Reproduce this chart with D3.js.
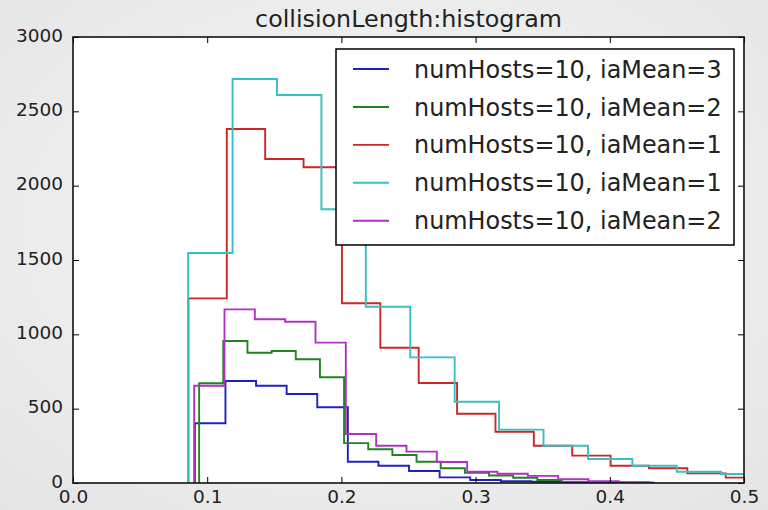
<!DOCTYPE html>
<html>
<head>
<meta charset="utf-8">
<script src="https://cdn.jsdelivr.net/npm/d3@7"></script>
<style>
  html, body { margin: 0; padding: 0; }
  body { width: 768px; height: 510px; overflow: hidden; }
  text { font-family: "DejaVu Sans", sans-serif; fill: #222; }
</style>
</head>
<body>
<svg id="chart" width="768" height="510"></svg>
<script>
// ---- data ----
const title = "collisionLength:histogram";
const seriesLabels = [
  "numHosts=10, iaMean=3",
  "numHosts=10, iaMean=2",
  "numHosts=10, iaMean=1",
  "numHosts=10, iaMean=1",
  "numHosts=10, iaMean=2"
];
const seriesColors = ["#2020c0", "#1f841f", "#cc2626", "#36c0c0", "#b031c4"];
const binStart = [0.0908, 0.0940, 0.0860, 0.0858, 0.0903];
const binWidth = [0.0228, 0.0180, 0.0286, 0.0331, 0.0226];
const countsBlue    = [402, 686, 654, 599, 510, 143, 116, 81, 38, 20, 12, 8, 5, 3, 2];
const countsGreen   = [671, 955, 876, 888, 832, 711, 268, 227, 188, 143, 99, 68, 50, 35, 20];
const countsRed     = [1242, 2381, 2179, 2124, 1209, 910, 673, 466, 345, 251, 184, 116, 99, 65, 36];
const countsCyan    = [1547, 2717, 2610, 1841, 1186, 845, 547, 359, 251, 161, 116, 76, 61];
const countsMagenta = [654, 1168, 1101, 1085, 944, 330, 251, 211, 141, 76, 62, 48, 25, 12, 5];
const allCounts = [countsBlue, countsGreen, countsRed, countsCyan, countsMagenta];
const xTicks = [0.0, 0.1, 0.2, 0.3, 0.4, 0.5];
const yTicks = [0, 500, 1000, 1500, 2000, 2500, 3000];

// ---- layout ----
const svg = d3.select("#chart");
const W = 768, H = 510;
const m = { left: 73, right: 768 - 744, top: 37, bottom: 510 - 483 };

const defs = svg.append("defs");
const grad = defs.append("radialGradient").attr("id", "bg").attr("cx", "50%").attr("cy", "45%").attr("r", "75%");
grad.append("stop").attr("offset", "0%").attr("stop-color", "#f8f8f8");
grad.append("stop").attr("offset", "100%").attr("stop-color", "#e4e4e4");
svg.append("rect").attr("width", W).attr("height", H).attr("fill", "url(#bg)");

const x = d3.scaleLinear().domain([0, 0.5]).range([m.left, W - m.right]);
const y = d3.scaleLinear().domain([0, 3000]).range([H - m.bottom, m.top]);

defs.append("clipPath").attr("id", "clip").append("rect")
  .attr("x", x(0)).attr("y", y(3000)).attr("width", x(0.5) - x(0)).attr("height", y(0) - y(3000));

svg.append("rect").attr("x", x(0)).attr("y", y(3000))
  .attr("width", x(0.5) - x(0)).attr("height", y(0) - y(3000)).attr("fill", "#fff");

// step histograms
const line = d3.line().x(d => x(d[0])).y(d => y(d[1]));
const g = svg.append("g").attr("clip-path", "url(#clip)");
allCounts.forEach((counts, i) => {
  const pts = [];
  const s = binStart[i], w = binWidth[i];
  pts.push([s, 0]);
  counts.forEach((c, k) => {
    pts.push([s + k * w, c]);
    pts.push([s + (k + 1) * w, c]);
  });
  pts.push([s + counts.length * w, 0]);
  g.append("path").attr("d", line(pts)).attr("fill", "none")
    .attr("stroke", seriesColors[i]).attr("stroke-width", 1.9);
});

// axes (ticks inside on all four sides)
const tl = 6;
const axB = svg.append("g").attr("transform", `translate(0,${y(0)})`)
  .call(d3.axisBottom(x).tickValues(xTicks).tickFormat(d3.format(".1f")).tickSizeInner(-tl).tickSizeOuter(0).tickPadding(7));
const axT = svg.append("g").attr("transform", `translate(0,${y(3000)})`)
  .call(d3.axisTop(x).tickValues(xTicks).tickFormat("").tickSizeInner(-tl).tickSizeOuter(0));
const axL = svg.append("g").attr("transform", `translate(${x(0)},0)`)
  .call(d3.axisLeft(y).tickValues(yTicks).tickFormat(d3.format("d")).tickSizeInner(-tl).tickSizeOuter(0).tickPadding(10));
const axR = svg.append("g").attr("transform", `translate(${x(0.5)},0)`)
  .call(d3.axisRight(y).tickValues(yTicks).tickFormat("").tickSizeInner(-tl).tickSizeOuter(0));
[axB, axT, axL, axR].forEach(a => {
  a.select(".domain").remove();
  a.selectAll(".tick line").attr("stroke", "#000").attr("stroke-width", 1);
});
axB.selectAll("text").attr("font-size", 18.5).attr("fill", "#222").attr("font-family", "DejaVu Sans");
axL.selectAll("text").attr("font-size", 18.5).attr("fill", "#222").attr("font-family", "DejaVu Sans").attr("dy", "0.22em");

// frame
svg.append("rect").attr("x", x(0)).attr("y", y(3000))
  .attr("width", x(0.5) - x(0)).attr("height", y(0) - y(3000))
  .attr("fill", "none").attr("stroke", "#111").attr("stroke-width", 1.6);

// title
svg.append("text").attr("x", (x(0) + x(0.5)) / 2).attr("y", 27)
  .attr("text-anchor", "middle").attr("font-size", 23.8).text(title);

// legend
const lg = svg.append("g");
lg.append("rect").attr("x", 336).attr("y", 49).attr("width", 398).attr("height", 196)
  .attr("fill", "#fff").attr("stroke", "#000").attr("stroke-width", 1.5);
const rowY = d3.scaleLinear().domain([0, 4]).range([69, 220.7]);
seriesLabels.forEach((lab, i) => {
  lg.append("line").attr("x1", 353).attr("x2", 389).attr("y1", rowY(i)).attr("y2", rowY(i))
    .attr("stroke", seriesColors[i]).attr("stroke-width", 1.9);
  lg.append("text").attr("x", 414).attr("y", rowY(i)).attr("dy", "0.36em")
    .attr("font-size", 23.9).text(lab);
});
</script>
</body>
</html>
